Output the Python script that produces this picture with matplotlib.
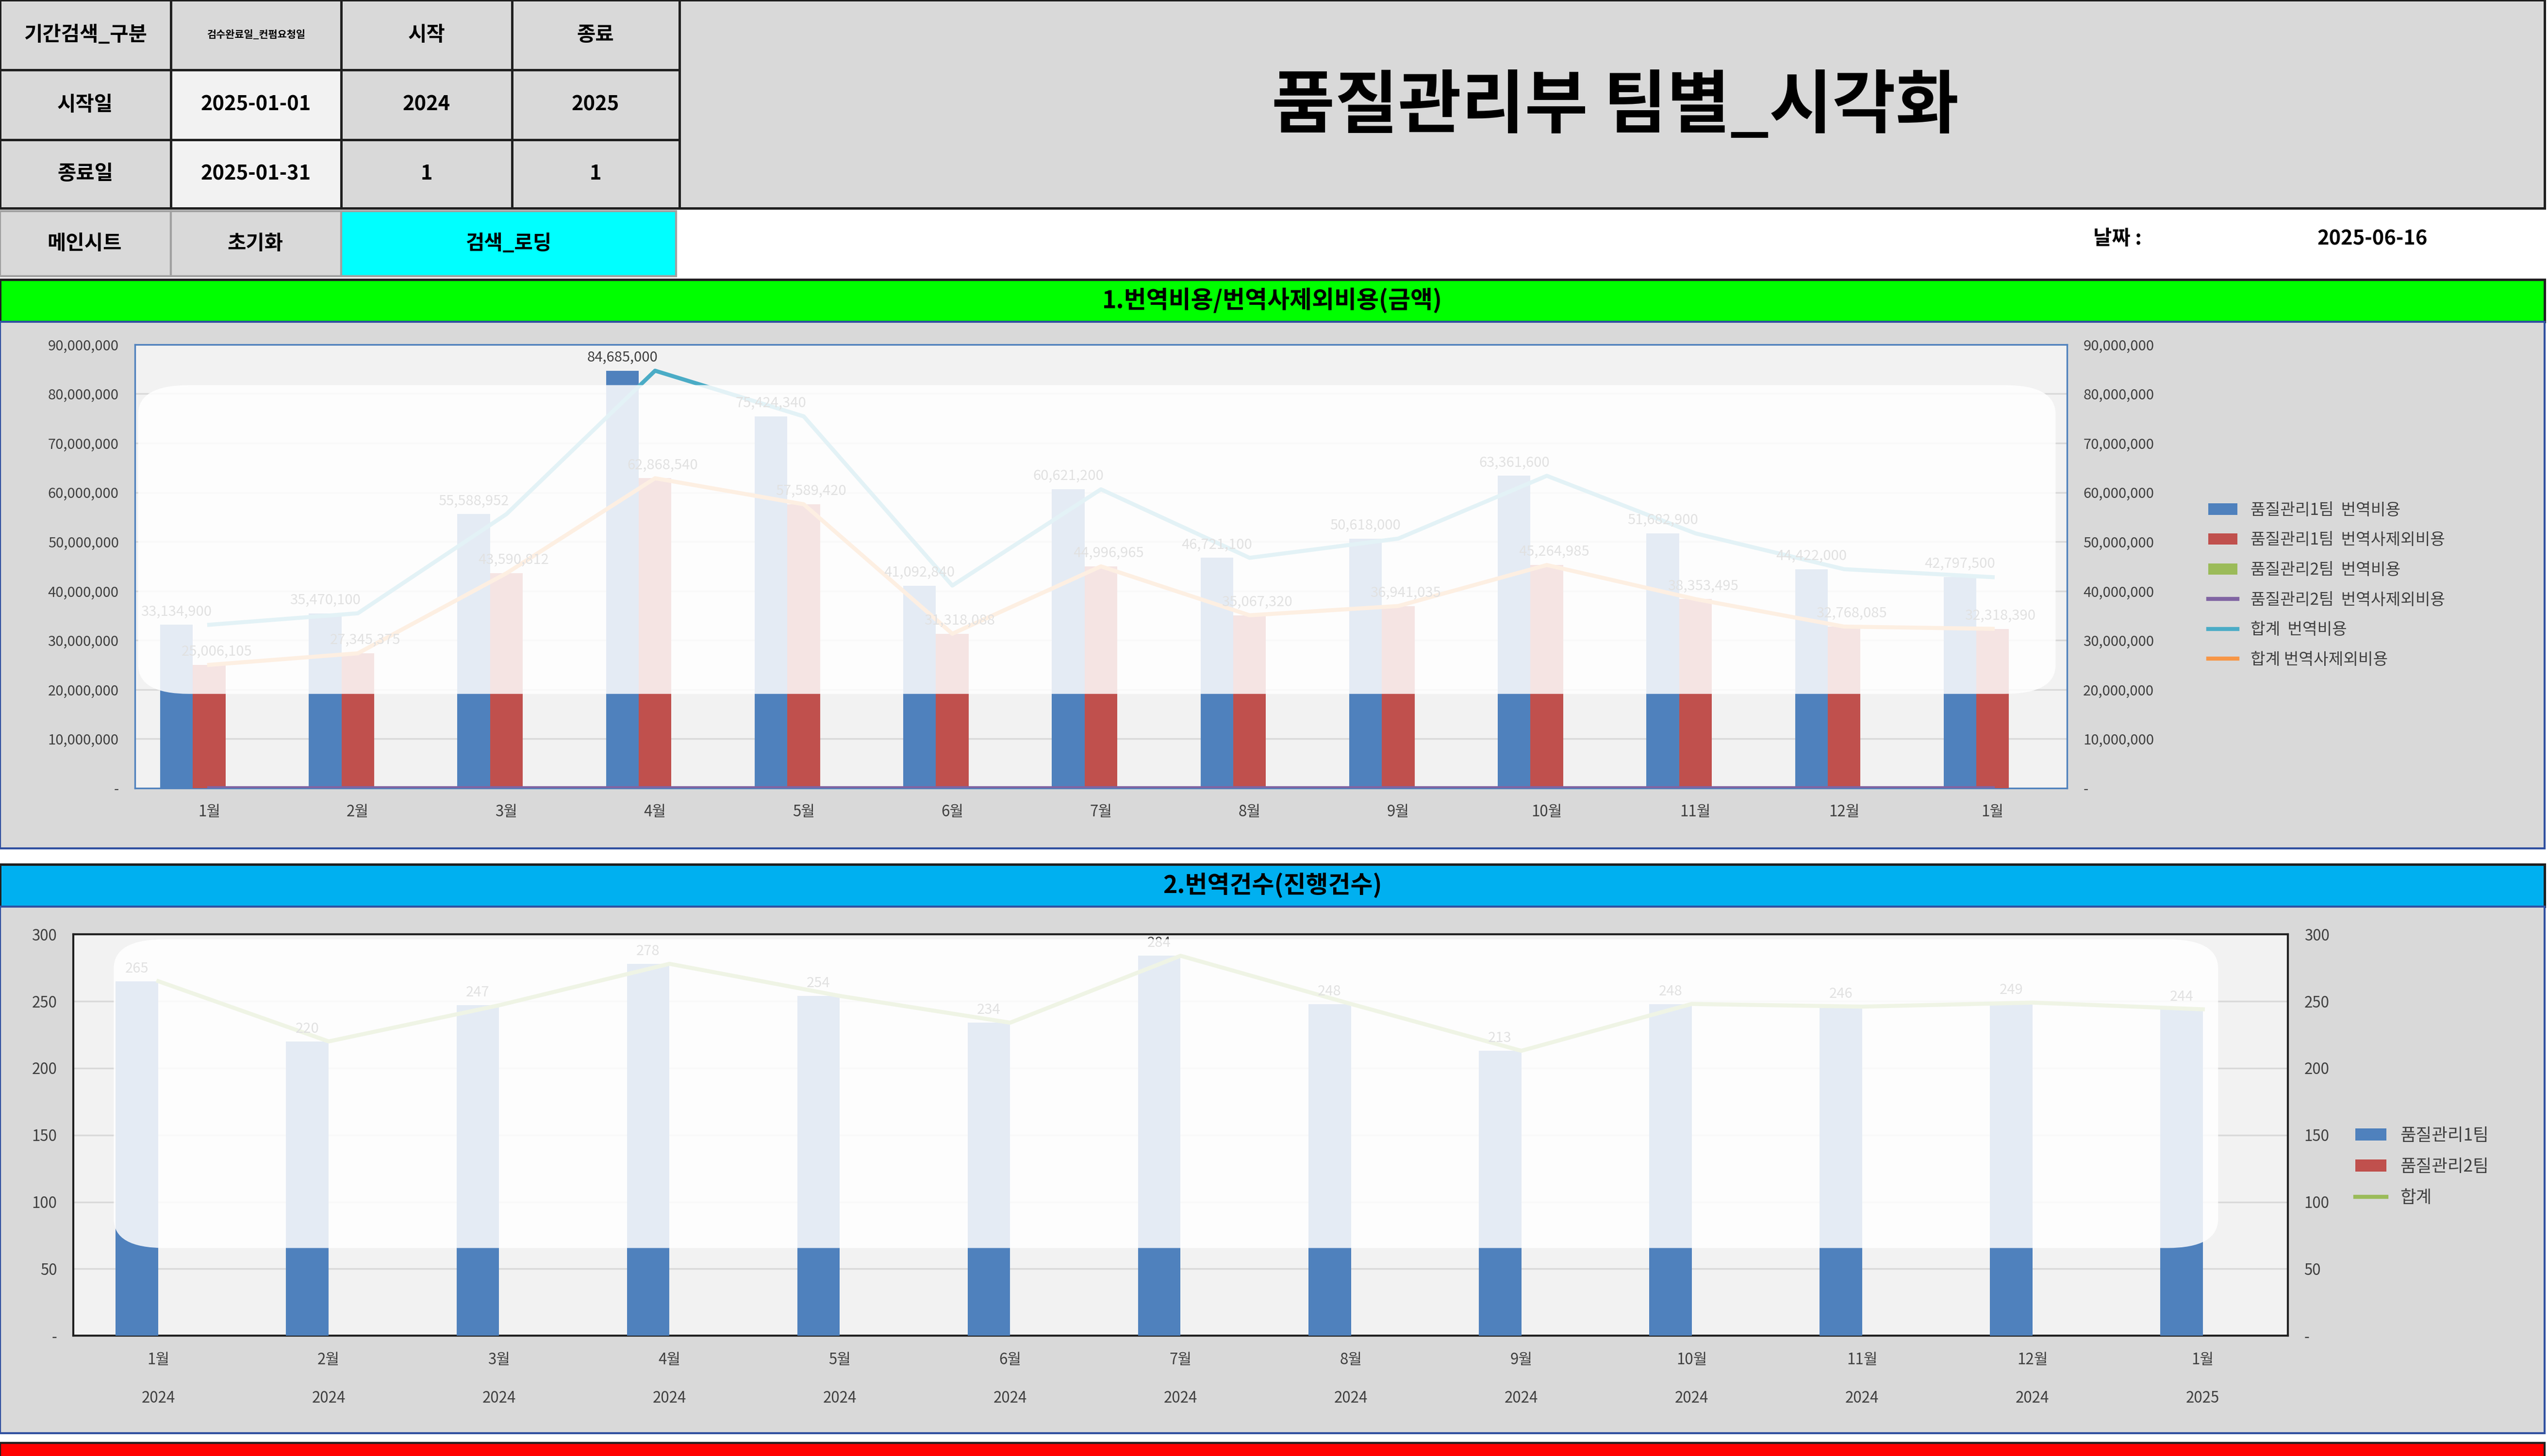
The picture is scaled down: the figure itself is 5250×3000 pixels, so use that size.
import matplotlib
matplotlib.use("Agg")
import matplotlib.pyplot as plt
from matplotlib.patches import Rectangle, FancyBboxPatch
import numpy as np

plt.rcParams['font.family'] = ['Noto Sans CJK JP', 'Noto Sans CJK KR', 'DejaVu Sans']

months = ['1월','2월','3월','4월','5월','6월','7월','8월','9월','10월','11월','12월','1월']
years = ['2024']*12 + ['2025']
team1_cost = [33134900, 35470100, 55588952, 84685000, 75424340, 41092840, 60621200,
              46721100, 50618000, 63361600, 51682900, 44422000, 42797500]
team1_other = [25006105, 27345375, 43590812, 62868540, 57589420, 31318088, 44996965,
               35067320, 36941035, 45264985, 38353495, 32768085, 32318390]
team2_cost = [0]*13
team2_other = [0]*13
total_cost = [a+b for a, b in zip(team1_cost, team2_cost)]
total_other = [a+b for a, b in zip(team1_other, team2_other)]
team1_cnt = [265, 220, 247, 278, 254, 234, 284, 248, 213, 248, 246, 249, 244]
team2_cnt = [0]*13
total_cnt = [a+b for a, b in zip(team1_cnt, team2_cnt)]

W, H = 1568, 896
fig = plt.figure(figsize=(17.5, 10), dpi=300)
fig.patch.set_facecolor('white')

def box(x0, y0, x1, y1, fc, ec='#202020', lw=1.0, z=-5):
    r = Rectangle((x0/W, 1-y1/H), (x1-x0)/W, (y1-y0)/H, transform=fig.transFigure,
                  facecolor=fc, edgecolor=ec, linewidth=lw, zorder=z)
    fig.add_artist(r)

def txt(x, y, s, size=10, weight='bold', ha='center', color='black', z=3):
    fig.text(x/W, 1-y/H, s, fontsize=size, fontweight=weight, ha=ha, va='center', color=color, zorder=z)

# top table
cols = [0, 105, 210, 315, 418]
rows = [0, 43, 86, 128]
cells = [['기간검색_구분', '검수완료일_컨펌요청일', '시작', '종료'],
         ['시작일', '2025-01-01', '2024', '2025'],
         ['종료일', '2025-01-31', '1', '1']]
for r in range(3):
    for c in range(4):
        fc = '#F2F2F2' if (c == 1 and r > 0) else '#D9D9D9'
        box(cols[c], rows[r], cols[c+1], rows[r+1], fc, lw=1.2)
        s = cells[r][c]
        sz = 5 if s == '검수완료일_컨펌요청일' else 10
        txt((cols[c]+cols[c+1])/2, (rows[r]+rows[r+1])/2, s, size=sz)
box(418, 0, 1566, 128, '#D9D9D9', lw=1.2)
txt(994, 66, '품질관리부 팀별_시각화', size=34)
# buttons
box(0, 130, 105, 170, '#D9D9D9', ec='#A0A0A0')
box(105, 130, 210, 170, '#D9D9D9', ec='#A0A0A0')
box(210, 130, 416, 170, '#00FFFF', ec='#A0A0A0')
txt(52, 150, '메인시트', 10); txt(157, 150, '초기화', 10); txt(313, 150, '검색_로딩', 10)
txt(1303, 147, '날짜 :', 10); txt(1460, 147, '2025-06-16', 10)

# section headers
box(0, 172, 1566, 198, '#00FF00', lw=1.2)
txt(783, 185, '1.번역비용/번역사제외비용(금액)', 12)
box(0, 198, 1566, 522, '#D9D9D9', ec='#3050A0', lw=1.0)
box(0, 532, 1566, 558, '#00B0F0', lw=1.2)
txt(783, 545, '2.번역건수(진행건수)', 12)
box(0, 558, 1566, 882, '#D9D9D9', ec='#3050A0', lw=1.0)
box(0, 888, 1566, 900, '#FF0000', lw=1.0)

def axrect(x0, y0, x1, y1):
    return [x0/W, 1-y1/H, (x1-x0)/W, (y1-y0)/H]

x = np.arange(len(months))
tc = '#404040'

def fmt(v):
    return '-' if v == 0 else f'{int(v):,}'

# chart 1
ax1 = fig.add_axes(axrect(83, 212, 1272, 485))
ax1.set_facecolor('#F2F2F2')
w = 0.22
ax1.bar(x - w, team1_cost, w, color='#4F81BD', zorder=3, label='품질관리1팀  번역비용')
ax1.bar(x, team1_other, w, color='#C0504D', zorder=3, label='품질관리1팀  번역사제외비용')
ax1.bar(x + w, team2_cost, w, color='#9BBB59', zorder=3, label='품질관리2팀  번역비용')
ax1.plot(x, team2_other, color='#8064A2', lw=2, zorder=4, label='품질관리2팀  번역사제외비용')
ax1.plot(x, total_cost, color='#4BACC6', lw=2, zorder=4, label='합계  번역비용')
ax1.plot(x, total_other, color='#F79646', lw=2, zorder=4, label='합계 번역사제외비용')
for i in range(len(x)):
    ax1.text(x[i]-w, team1_cost[i]+1.2e6, fmt(team1_cost[i]), ha='center', va='bottom', fontsize=7, color=tc, zorder=5)
    ax1.text(x[i]+0.05, team1_other[i]+1.2e6, fmt(team1_other[i]), ha='center', va='bottom', fontsize=7, color=tc, zorder=5)
ax1.set_xlim(-0.5, len(x)-0.5)
ax1.set_ylim(0, 90e6)
ticks1 = np.arange(0, 90e6+1, 10e6)
ax1.set_yticks(ticks1)
ax1.set_yticklabels([fmt(t) for t in ticks1], fontsize=7, color=tc)
ax1.set_xticks(x)
ax1.set_xticklabels(months, fontsize=7.5, color=tc)
ax1.tick_params(length=0, pad=8)
ax1.yaxis.grid(True, color='#D9D9D9', lw=0.8, zorder=0)
for s in ax1.spines.values():
    s.set_color('#4F81BD'); s.set_linewidth(0.8)
ax1r = ax1.twinx()
ax1r.set_ylim(0, 90e6)
ax1r.set_yticks(ticks1)
ax1r.set_yticklabels([fmt(t) for t in ticks1], fontsize=7, color=tc)
ax1r.tick_params(length=0, pad=8)
for s in ax1r.spines.values():
    s.set_visible(False)
h, l = ax1.get_legend_handles_labels()
idx = [3, 4, 5, 0, 1, 2]
fig.legend([h[i] for i in idx], [l[i] for i in idx],
           loc='center left', bbox_to_anchor=(1350/W, 1-360/H), frameon=False,
           fontsize=8, labelcolor=tc, handlelength=1.8, labelspacing=0.8)

# chart 2
ax2 = fig.add_axes(axrect(45, 575, 1408, 822))
ax2.set_facecolor('#F2F2F2')
w2 = 0.25
ax2.bar(x - w2/2, team1_cnt, w2, color='#4F81BD', zorder=3, label='품질관리1팀')
ax2.bar(x + w2/2, team2_cnt, w2, color='#C0504D', zorder=3, label='품질관리2팀')
ax2.plot(x, total_cnt, color='#9BBB59', lw=2, zorder=4, label='합계')
for i in range(len(x)):
    ax2.text(x[i]-w2/2, team1_cnt[i]+4, str(team1_cnt[i]), ha='center', va='bottom', fontsize=7, color=tc, zorder=5)
ax2.set_xlim(-0.5, len(x)-0.5)
ax2.set_ylim(0, 300)
ticks2 = np.arange(0, 301, 50)
ax2.set_yticks(ticks2)
ax2.set_yticklabels([fmt(t) for t in ticks2], fontsize=7.5, color=tc)
ax2.set_xticks(x)
ax2.set_xticklabels([f'{m}\n\n{y}' for m, y in zip(months, years)], fontsize=7.5, color=tc, linespacing=1.3)
ax2.tick_params(length=0, pad=8)
ax2.yaxis.grid(True, color='#D9D9D9', lw=0.8, zorder=0)
for s in ax2.spines.values():
    s.set_color('#202020'); s.set_linewidth(1.0)
ax2r = ax2.twinx()
ax2r.set_ylim(0, 300)
ax2r.set_yticks(ticks2)
ax2r.set_yticklabels([fmt(t) for t in ticks2], fontsize=7.5, color=tc)
ax2r.tick_params(length=0, pad=8)
for s in ax2r.spines.values():
    s.set_visible(False)
h2, l2 = ax2.get_legend_handles_labels()
idx2 = [1, 2, 0]
fig.legend([h2[i] for i in idx2], [l2[i] for i in idx2], loc='center left',
           bbox_to_anchor=(1440/W, 1-718/H), frameon=False,
           fontsize=8.5, labelcolor=tc, handlelength=1.8, labelspacing=0.8)

# translucent loading overlays
def overlay(x0, y0, x1, y1):
    p = FancyBboxPatch((x0/W, 1-y1/H), (x1-x0)/W, (y1-y0)/H, transform=fig.transFigure,
                       boxstyle='round,pad=0,rounding_size=0.02', facecolor='white',
                       edgecolor='none', alpha=0.85, zorder=10)
    fig.add_artist(p)
overlay(85, 237, 1265, 427)
overlay(70, 578, 1365, 768)

fig.savefig('out.png', dpi=300)
